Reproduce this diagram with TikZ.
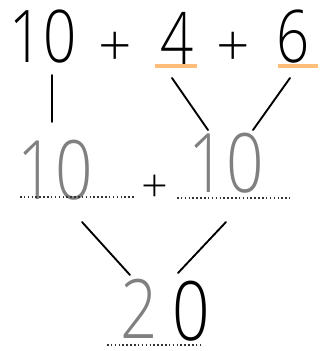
\documentclass[tikz,border=0pt]{standalone}
\usepackage{fontspec}
\setsansfont{Open Sans}[UprightFont=* Light]
\usetikzlibrary{calc}

\begin{document}
\begin{tikzpicture}[x=0.03cm, y=-0.03cm,
  digits/.style={font=\sffamily\fontsize{62}{62}\selectfont, inner sep=0pt, xscale=0.8, transform shape},
  written/.style={font=\sffamily\fontsize{70}{70}\selectfont, inner sep=0pt, xscale=0.8, transform shape, text=black!50},
  plussign/.style={font=\sffamily\fontsize{#1}{#1}\selectfont, inner sep=0pt},
  stroke/.style={line width=1.6pt, line cap=round},
  answer/.style={dotted, line width=1.3pt, black!80},
  marker/.style={line width=3pt, orange!65, opacity=0.8}]
\useasboundingbox (0,0) rectangle (321,351);
% the sum
\node[digits] (ten) at (43,37) {10};
\node[plussign=50] (plusA) at (115,49) {+};
\node[digits] (four) at (177,38) {4};
\node[plussign=50] (plusB) at (233,49) {+};
\node[digits] (six) at (293,37) {6};
\draw[marker] ($(four)+(-22,28)$) -- ($(four)+(20,28)$);
\draw[marker] ($(six)+(-15,29)$) -- ($(six)+(25,29)$);
% first step
\node[written] (tenL) at (55,170) {10};
\node[plussign=40] (plusC) at (155,189) {+};
\node[written] (tenR) at (226,163) {10};
\draw[answer] (20,197) -- (135,197);
\draw[answer] (177,198) -- (290,198);
\draw[stroke] ($(ten)+(9,38)$) -- ($(tenL)+(-3,-48)$);
\draw[stroke] ($(four)+(-5,40)$) -- ($(tenR)+(-18,-33)$);
\draw[stroke] ($(six)+(-3,41)$) -- ($(tenR)+(27,-33)$);
% result
\node[written] (two) at (139,309) {2};
\node[written, text=black] (zero) at (191,311) {0};
\draw[answer] (107,345) -- (200,345);
\draw[stroke] ($(tenL)+(27,52)$) -- ($(two)+(-9,-34)$);
\draw[stroke] ($(tenR)+(0,59)$) -- ($(zero)+(-13,-38)$);
\end{tikzpicture}
\end{document}
